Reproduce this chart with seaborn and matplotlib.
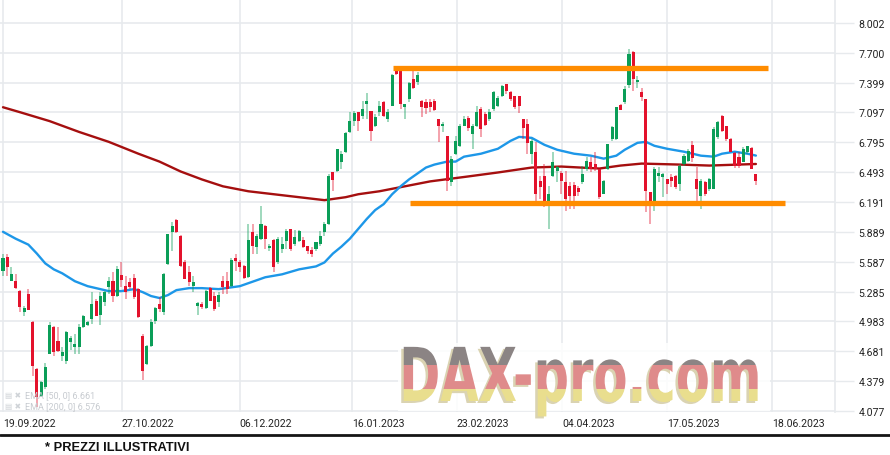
import numpy as np
import matplotlib
matplotlib.use("Agg")
import matplotlib.pyplot as plt
import seaborn as sns
from matplotlib.patches import Rectangle
from matplotlib.lines import Line2D
from matplotlib.patheffects import AbstractPathEffect
from matplotlib.transforms import Affine2D, Bbox
from matplotlib.colors import to_rgba

# ---------------- data ----------------
opens = [5.49, 5.64, 5.39, 5.39, 5.29, 5.08, 5.26, 4.98, 4.50, 4.23,
         4.32, 4.65, 4.93, 4.79, 4.63, 4.58, 4.78, 4.72, 4.72, 4.93,
         4.95, 5.01, 5.19, 5.05, 5.18, 5.33, 5.39, 5.24, 5.45, 5.34,
         5.38, 5.42, 5.31, 4.84, 4.55, 4.73, 4.99, 5.16, 5.08, 5.56,
         5.89, 6.01, 5.85, 5.58, 5.48, 5.34, 5.14, 5.16, 5.12, 5.32,
         5.24, 5.18, 5.39, 5.39, 5.34, 5.62, 5.58, 5.54, 5.43, 5.89,
         5.74, 5.82, 5.95, 5.73, 5.81, 5.58, 5.72, 5.80, 5.92, 5.77,
         5.80, 5.81, 5.75, 5.71, 5.72, 5.77, 5.89, 5.97, 6.49, 6.50,
         6.60, 6.70, 6.90, 7.01, 7.10, 7.06, 7.18, 7.11, 6.96, 7.10,
         7.20, 7.03, 7.16, 7.54, 7.52, 7.15, 7.23, 7.44, 7.41, 7.21,
         7.20, 7.20, 7.21, 7.03, 6.96, 6.86, 6.39, 6.68, 6.76, 6.96,
         7.04, 6.88, 6.96, 7.13, 7.08, 7.03, 7.13, 7.16, 7.26, 7.39,
         7.30, 7.26, 7.26, 7.03, 6.98, 6.68, 6.70, 6.40, 6.45, 6.20,
         6.45, 6.50, 6.48, 6.39, 6.35, 6.36, 6.33, 6.39, 6.53, 6.60,
         6.58, 6.53, 6.27, 6.53, 6.83, 6.83, 7.17, 7.20, 7.37, 7.71,
         7.41, 7.30, 7.23, 6.29, 6.20, 6.45, 6.44, 6.42, 6.44, 6.45,
         6.37, 6.58, 6.61, 6.77, 6.42, 6.25, 6.39, 6.32, 6.32, 6.85,
         7.06, 6.96, 6.83, 6.69, 6.65, 6.60, 6.70, 6.74, 6.47]
highs = [5.67, 5.67, 5.53, 5.46, 5.30, 5.14, 5.31, 4.99, 4.51, 4.38,
         4.56, 4.98, 4.94, 4.93, 4.72, 4.89, 4.84, 4.86, 4.96, 5.05,
         4.99, 5.28, 5.21, 5.28, 5.29, 5.43, 5.48, 5.54, 5.58, 5.44,
         5.42, 5.46, 5.32, 4.86, 4.74, 5.01, 5.13, 5.23, 5.47, 5.87,
         5.99, 6.02, 5.86, 5.60, 5.54, 5.44, 5.18, 5.18, 5.30, 5.33,
         5.28, 5.28, 5.44, 5.48, 5.62, 5.67, 5.60, 5.55, 5.97, 5.97,
         5.87, 6.15, 5.96, 5.77, 5.82, 5.84, 5.84, 5.92, 5.92, 5.91,
         5.91, 5.84, 5.75, 5.74, 5.79, 5.90, 5.99, 6.47, 6.49, 6.73,
         6.71, 6.90, 7.10, 7.11, 7.10, 7.21, 7.29, 7.11, 7.08, 7.21,
         7.21, 7.13, 7.49, 7.57, 7.52, 7.18, 7.41, 7.57, 7.51, 7.22,
         7.23, 7.23, 7.23, 7.03, 7.00, 6.86, 6.66, 6.86, 6.98, 7.06,
         7.06, 6.98, 7.16, 7.15, 7.10, 7.13, 7.31, 7.26, 7.37, 7.39,
         7.31, 7.26, 7.26, 7.03, 7.03, 6.83, 6.80, 6.45, 6.58, 6.35,
         6.70, 6.56, 6.51, 6.50, 6.39, 6.39, 6.35, 6.56, 6.65, 6.65,
         6.70, 6.53, 6.41, 6.78, 6.96, 7.15, 7.18, 7.36, 7.74, 7.72,
         7.47, 7.34, 7.23, 6.29, 6.55, 6.55, 6.48, 6.42, 6.47, 6.46,
         6.58, 6.68, 6.73, 6.81, 6.55, 6.42, 6.40, 6.43, 6.95, 7.01,
         7.07, 6.96, 6.84, 6.70, 6.70, 6.75, 6.76, 6.75, 6.47]
lows = [5.44, 5.44, 5.39, 5.31, 5.08, 5.04, 5.10, 4.43, 4.12, 4.22,
        4.30, 4.65, 4.63, 4.67, 4.58, 4.55, 4.69, 4.65, 4.65, 4.92,
        4.94, 4.96, 5.04, 4.95, 5.14, 5.26, 5.18, 5.23, 5.33, 5.21,
        5.31, 5.21, 5.02, 4.39, 4.54, 4.72, 4.96, 5.08, 5.05, 5.55,
        5.70, 5.88, 5.53, 5.41, 5.34, 5.28, 5.05, 5.11, 5.11, 5.19,
        5.09, 5.13, 5.26, 5.26, 5.33, 5.49, 5.48, 5.41, 5.42, 5.67,
        5.67, 5.81, 5.72, 5.70, 5.48, 5.56, 5.68, 5.72, 5.70, 5.75,
        5.79, 5.73, 5.67, 5.64, 5.70, 5.75, 5.85, 5.96, 6.30, 6.49,
        6.53, 6.69, 6.89, 6.96, 6.91, 7.03, 7.03, 6.81, 6.95, 7.06,
        7.05, 7.00, 7.16, 7.48, 7.13, 7.03, 7.20, 7.33, 7.38, 7.05,
        7.08, 7.10, 7.11, 6.80, 6.90, 6.30, 6.35, 6.67, 6.75, 6.96,
        6.91, 6.73, 6.95, 6.85, 6.96, 7.01, 7.11, 7.15, 7.25, 7.28,
        7.21, 7.13, 7.09, 6.83, 6.68, 6.58, 6.17, 6.22, 6.14, 5.92,
        6.44, 6.39, 6.27, 6.10, 6.12, 6.12, 6.25, 6.37, 6.50, 6.49,
        6.50, 6.22, 6.27, 6.52, 6.81, 6.82, 7.12, 7.18, 7.34, 7.31,
        7.34, 7.21, 6.09, 5.97, 6.10, 6.39, 6.24, 6.27, 6.34, 6.32,
        6.30, 6.56, 6.60, 6.60, 6.15, 6.12, 6.25, 6.30, 6.32, 6.83,
        6.90, 6.81, 6.70, 6.54, 6.54, 6.60, 6.68, 6.53, 6.36]
closes = [5.62, 5.53, 5.46, 5.32, 5.13, 5.12, 5.10, 4.53, 4.22, 4.37,
          4.52, 4.95, 4.67, 4.68, 4.67, 4.88, 4.82, 4.75, 4.93, 5.04,
          4.98, 5.16, 5.04, 5.24, 5.28, 5.39, 5.24, 5.51, 5.40, 5.28,
          5.33, 5.23, 5.03, 4.48, 4.73, 4.98, 5.12, 5.11, 5.46, 5.87,
          5.95, 5.89, 5.54, 5.41, 5.38, 5.38, 5.17, 5.13, 5.29, 5.19,
          5.11, 5.25, 5.33, 5.31, 5.60, 5.59, 5.53, 5.42, 5.81, 5.75,
          5.85, 5.97, 5.82, 5.75, 5.53, 5.82, 5.77, 5.90, 5.72, 5.84,
          5.90, 5.74, 5.70, 5.67, 5.79, 5.85, 5.97, 6.45, 6.41, 6.73,
          6.68, 6.89, 7.01, 7.09, 7.01, 7.13, 7.21, 6.91, 7.05, 7.16,
          7.06, 7.10, 7.48, 7.49, 7.18, 7.18, 7.40, 7.34, 7.48, 7.15,
          7.14, 7.15, 7.12, 6.96, 6.98, 6.40, 6.63, 6.81, 6.96, 7.03,
          6.94, 6.96, 7.10, 6.93, 6.97, 7.10, 7.30, 7.24, 7.36, 7.31,
          7.23, 7.15, 7.16, 6.94, 6.79, 6.81, 6.27, 6.34, 6.19, 6.27,
          6.60, 6.55, 6.40, 6.22, 6.25, 6.25, 6.29, 6.47, 6.61, 6.53,
          6.53, 6.24, 6.40, 6.78, 6.95, 7.15, 7.12, 7.33, 7.69, 7.44,
          7.43, 7.25, 6.30, 6.15, 6.53, 6.48, 6.47, 6.37, 6.40, 6.34,
          6.56, 6.66, 6.71, 6.64, 6.32, 6.40, 6.27, 6.42, 6.93, 7.00,
          6.91, 6.83, 6.70, 6.56, 6.56, 6.73, 6.76, 6.53, 6.40]

# EMA lines, read at selected sessions (session index, value)
ema50_idx = [0, 3, 6, 8, 10, 12, 14, 17, 20, 23, 25, 28, 31, 33, 35, 37, 39,
             41, 44, 47, 51, 56, 58, 62, 66, 70, 74, 76, 78, 80, 82, 84, 86,
             88, 90, 92, 94, 96, 98, 100, 102, 105, 107, 109, 113, 117, 120,
             122, 125, 128, 131, 135, 139, 142, 145, 147, 150, 152, 154, 157,
             161, 165, 168, 170, 173, 176, 178]
ema50_val = [5.89, 5.82, 5.76, 5.67, 5.57, 5.51, 5.47, 5.39, 5.34, 5.31, 5.29,
             5.29, 5.31, 5.28, 5.24, 5.22, 5.25, 5.30, 5.32, 5.32, 5.31, 5.34,
             5.37, 5.43, 5.46, 5.51, 5.54, 5.58, 5.67, 5.74, 5.82, 5.92, 6.02,
             6.11, 6.17, 6.27, 6.35, 6.42, 6.48, 6.54, 6.57, 6.60, 6.60, 6.65,
             6.68, 6.73, 6.81, 6.85, 6.84, 6.77, 6.72, 6.68, 6.66, 6.63, 6.66,
             6.72, 6.79, 6.80, 6.76, 6.73, 6.70, 6.66, 6.65, 6.68, 6.70, 6.68,
             6.661]
ema200_idx = [0, 4, 11, 18, 25, 32, 37, 42, 47, 52, 58, 64, 70, 76, 81, 84,
              89, 95, 101, 110, 117, 125, 132, 141, 146, 151, 160, 167, 178]
ema200_val = [7.15, 7.10, 7.01, 6.90, 6.80, 6.68, 6.60, 6.50, 6.42, 6.35,
              6.30, 6.27, 6.24, 6.21, 6.24, 6.27, 6.30, 6.35, 6.40, 6.45,
              6.49, 6.54, 6.55, 6.53, 6.56, 6.58, 6.57, 6.56, 6.576]

# horizontal channel drawn by the analyst
level_values = [7.547, 6.181]
level_start = [92.2, 96.2]
level_end = [180.9, 184.9]

# axes labelling
ytick_labels = ["8.002", "7.700", "7.399", "7.097", "6.795", "6.493", "6.191",
                "5.889", "5.587", "5.285", "4.983", "4.681", "4.379", "4.077"]
xtick_pos = [0, 28.1, 56.0, 82.5, 107.3, 132.2, 157.0, 181.8]
xtick_labels = ["19.09.2022", "27.10.2022", "06.12.2022", "16.01.2023",
                "23.02.2023", "04.04.2023", "17.05.2023", "18.06.2023"]
legend_rows = ["EMA [50, 0] 6.661", "EMA [200, 0] 6.576"]
watermark = "DAX-pro.com"
footer = "* PREZZI ILLUSTRATIVI"

# ---------------- styling ----------------
sns.set_theme(style="white")
plt.rcParams["font.family"] = ["Roboto", "DejaVu Sans"]

UP = "#0b9e58"
DOWN = "#e3122c"
GRID = "#e7eaed"

W, H = 890, 456
fig = plt.figure(figsize=(W / 100, H / 100), dpi=100)
fig.patch.set_facecolor("white")
ax = fig.add_axes([0, 43 / H, 835 / W, 413 / H])
ax.set_facecolor("white")

o = np.array(opens)
h = np.array(highs)
l = np.array(lows)
c = np.array(closes)
x = np.arange(len(o))
up = c >= o
col = np.where(up, UP, DOWN)

# EMA lines (seaborn)
sns.lineplot(x=ema200_idx, y=ema200_val, ax=ax, color="#a50f0f", lw=1.7,
             sort=False, zorder=2)
sns.lineplot(x=ema50_idx, y=ema50_val, ax=ax, color="#1d97e8", lw=1.7,
             sort=False, zorder=2)

# candles
ax.vlines(x, l, h, colors=col, linewidth=1.1, alpha=0.5, zorder=3)
body_lo = np.minimum(o, c)
body_h = np.maximum(np.abs(c - o), 0.012)
ax.bar(x, body_h, bottom=body_lo, width=0.72, color=col, linewidth=0,
       zorder=4)

# channel lines
ax.hlines(level_values, level_start, level_end, colors="#ff8c00",
          linewidth=3.8, zorder=5, capstyle="butt")

# axes
ax.set_xlim(-0.71, 196.7)
ax.set_ylim(4.067, 8.245)
ytick_vals = [float(t) for t in ytick_labels]
ax.set_yticks(ytick_vals)
ax.set_yticklabels(ytick_labels)
ax.yaxis.tick_right()
ax.set_xticks(xtick_pos)
ax.set_xticklabels(xtick_labels)
for lab in ax.get_xticklabels():
    lab.set_horizontalalignment("left")
ax.tick_params(axis="y", length=14, width=1, color=GRID, pad=3,
               labelsize=7.6, labelcolor="#222222")
ax.tick_params(axis="x", length=0, pad=4, labelsize=7.6,
               labelcolor="#222222")
ax.grid(True, color=GRID, linewidth=1.2)
ax.set_axisbelow(True)
for s in ["top", "left", "bottom"]:
    ax.spines[s].set_visible(False)
ax.spines["right"].set_color(GRID)
ax.set_xlabel("")
ax.set_ylabel("")

# legend rows (faint)
for k, row in enumerate(legend_rows):
    yy = 1 - (396 + 11 * k) / H
    fig.text(5 / W, yy, "\u25a4 \u2716", fontsize=5.5, color="#cfd3d7",
             va="center", family="DejaVu Sans")
    fig.text(25 / W, yy, row, fontsize=6.5, color="#c7cbd0", va="center")


# watermark: one text, filled in horizontal flag bands by a path effect
class BandFill(AbstractPathEffect):
    def __init__(self, color, y_lo, y_hi, anchor, scale, shift=(0.0, 0.0)):
        super().__init__((0, 0))
        self.color = to_rgba(color)
        self.y_lo, self.y_hi = y_lo, y_hi
        self.anchor, self.scale, self.shift = anchor, scale, shift

    def draw_path(self, renderer, gc, tpath, affine, rgbFace=None):
        axx, ayy = self.anchor
        stretch = (Affine2D().translate(-axx, -ayy).scale(*self.scale)
                   .translate(axx + self.shift[0], ayy + self.shift[1]))
        gc0 = renderer.new_gc()
        gc0.copy_properties(gc)
        gc0.set_linewidth(0)
        gc0.set_clip_rectangle(Bbox.from_extents(0, self.y_lo, W, self.y_hi))
        renderer.draw_path(gc0, tpath, affine + stretch, self.color)
        gc0.restore()


fig.patches.append(Rectangle((398 / W, 1 - 412 / H), 372 / W, 68 / H,
                             transform=fig.transFigure, facecolor="white",
                             alpha=0.85, edgecolor="none", zorder=1))
anchor = (580.0, H - 402.0)
scale = (1.035, 1.55)
effects = [
    BandFill("#dad3b2", 0, H, anchor, scale, shift=(-2.5, -2.0)),
    BandFill("#8b8484", H - 366, H, anchor, scale),
    BandFill("#df8b8b", H - 390, H - 366, anchor, scale),
    BandFill("#e9de8e", 0, H - 390, anchor, scale),
]
fig.text(anchor[0] / W, anchor[1] / H, watermark, fontsize=34.5,
         fontweight="bold", ha="center", va="baseline",
         family="DejaVu Sans", path_effects=effects)

# footer
fig.add_artist(Line2D([0, 1], [1 - 436 / H, 1 - 436 / H],
                      transform=fig.transFigure, color="#151515", lw=2))
fig.text(45 / W, 1 - 448 / H, footer, fontsize=9.3,
         fontweight="bold", color="#111111", va="center",
         family=["Liberation Sans", "DejaVu Sans"])

fig.savefig("out.png", dpi=100, facecolor="white")
